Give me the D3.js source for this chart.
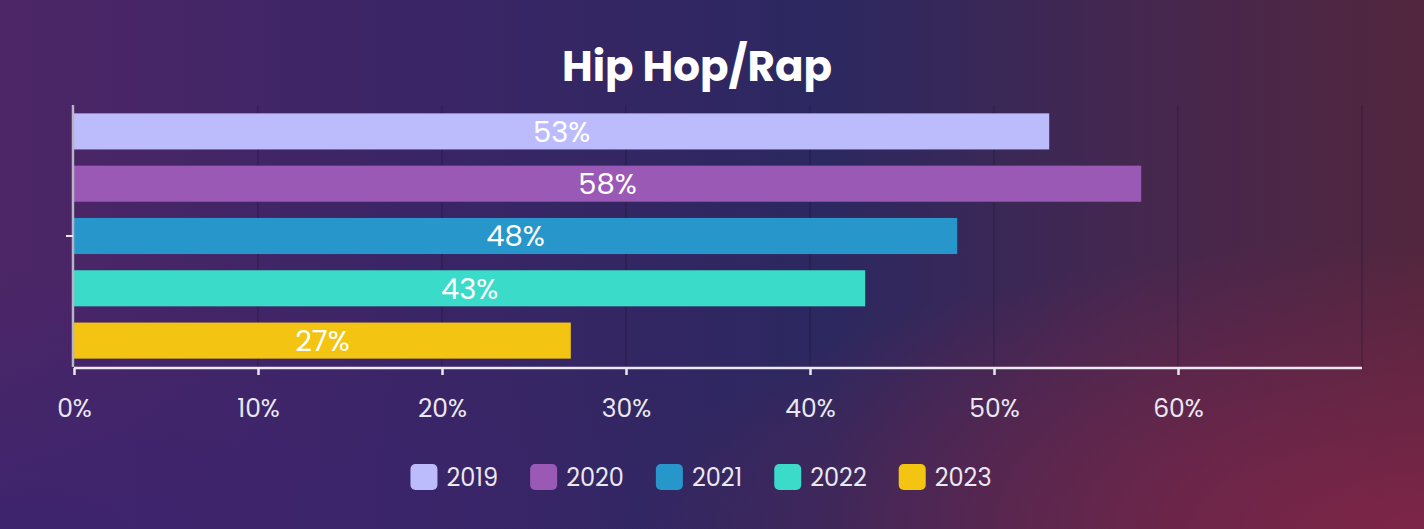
<!DOCTYPE html>
<html>
<head>
<meta charset="utf-8">
<script src="https://cdnjs.cloudflare.com/ajax/libs/d3/7.8.5/d3.min.js"></script>
<style>
    html, body { margin: 0; padding: 0; overflow: hidden; }
    body { width: 1424px; height: 529px; font-family: Poppins, Inter, "Open Sans", sans-serif; }
</style>
</head>
<body>
<div id="pic"></div>
<script>
//chart data
var title = "Hip Hop/Rap";
var years = ["2019", "2020", "2021", "2022", "2023"];
var shares = [53, 58, 48, 43, 27];
var colors = ["#bcbcfd", "#9b59b6", "#2796cb", "#3bdbca", "#f3c412"];
var tickValues = [0, 10, 20, 30, 40, 50, 60];
var gridValues = [0, 10, 20, 30, 40, 50, 60, 70];

var width = 1424,
    height = 529;
var margin = { top: 105, right: 62, bottom: 162, left: 74 };

var svg = d3.select("#pic").append("svg")
    .attr("width", width)
    .attr("height", height);

//background gradients
var defs = svg.append("defs");
var lin = defs.append("linearGradient").attr("id", "bg").attr("x1", "0").attr("y1", "0").attr("x2", "1").attr("y2", "0");
lin.append("stop").attr("offset", "0%").attr("stop-color", "#4d2666");
lin.append("stop").attr("offset", "30%").attr("stop-color", "#3a2566");
lin.append("stop").attr("offset", "58%").attr("stop-color", "#2c2860");
lin.append("stop").attr("offset", "80%").attr("stop-color", "#45274f");
lin.append("stop").attr("offset", "100%").attr("stop-color", "#52263e");

var rad = defs.append("radialGradient").attr("id", "glow")
    .attr("cx", "1").attr("cy", "1").attr("r", "0.55");
rad.append("stop").attr("offset", "0%").attr("stop-color", "#7d2548").attr("stop-opacity", 1);
rad.append("stop").attr("offset", "100%").attr("stop-color", "#7d2548").attr("stop-opacity", 0);

var rad2 = defs.append("radialGradient").attr("id", "glow2")
    .attr("cx", "0").attr("cy", "1").attr("r", "0.5");
rad2.append("stop").attr("offset", "0%").attr("stop-color", "#3a2470").attr("stop-opacity", 0.8);
rad2.append("stop").attr("offset", "100%").attr("stop-color", "#3a2470").attr("stop-opacity", 0);

svg.append("rect").attr("width", width).attr("height", height).attr("fill", "url(#bg)");
svg.append("rect").attr("width", width).attr("height", height).attr("fill", "url(#glow2)");
svg.append("rect").attr("width", width).attr("height", height).attr("fill", "url(#glow)");

//title
svg.append("text")
    .attr("x", 697)
    .attr("y", 81)
    .attr("text-anchor", "middle")
    .attr("fill", "#ffffff")
    .style("font-size", "42px")
    .style("font-weight", "700")
    .text(title);

var innerW = width - margin.left - margin.right,
    innerH = height - margin.top - margin.bottom;

var g = svg.append("g")
    .attr("transform", "translate(" + margin.left + "," + margin.top + ")");

var x = d3.scaleLinear()
    .domain([0, 70])
    .range([0, innerW]);

var y = d3.scaleBand()
    .domain(years)
    .range([0, innerH])
    .paddingInner(0.31)
    .paddingOuter(0.16);

//grid lines
g.append("g")
    .selectAll("line")
    .data(gridValues)
    .enter().append("line")
    .attr("x1", function(d) { return x(d); })
    .attr("x2", function(d) { return x(d); })
    .attr("y1", 0)
    .attr("y2", innerH)
    .attr("stroke", "#1f1838")
    .attr("stroke-opacity", 0.55)
    .attr("stroke-width", 1);

//bars
g.selectAll(".bar")
    .data(years)
    .enter().append("rect")
    .attr("class", "bar")
    .attr("x", x(0))
    .attr("y", function(d) { return y(d); })
    .attr("width", function(d, i) { return x(shares[i]) - x(0); })
    .attr("height", y.bandwidth())
    .attr("fill", function(d, i) { return colors[i]; });

//value labels
g.selectAll(".val")
    .data(years)
    .enter().append("text")
    .attr("class", "val")
    .attr("x", function(d, i) { return x(shares[i]) / 2; })
    .attr("y", function(d) { return y(d) + y.bandwidth() / 2; })
    .attr("dy", "0.36em")
    .attr("text-anchor", "middle")
    .attr("fill", "#ffffff")
    .style("font-size", "29px")
    .style("font-weight", "400")
    .text(function(d, i) { return shares[i] + "%"; });

//x axis
var xAxis = d3.axisBottom(x)
    .tickValues(tickValues)
    .tickSize(7)
    .tickPadding(24)
    .tickFormat(function(d) { return d + "%"; });

var xg = g.append("g")
    .attr("transform", "translate(0," + (innerH + 1) + ")")
    .call(xAxis);
xg.select(".domain")
    .attr("d", "M0,0H" + innerW)
    .attr("stroke", "#ebe8f2")
    .attr("stroke-width", 2.5);
xg.selectAll(".tick line").attr("stroke", "#ebe8f2").attr("stroke-width", 2.5);
xg.selectAll(".tick text")
    .attr("fill", "#ebe8f2")
    .style("font-size", "25px")
    .style("font-weight", "400")
    .style("font-family", "Poppins, Inter, sans-serif");

//y axis, one tick in the middle
var yg = g.append("g");
yg.append("line")
    .attr("x1", -1).attr("x2", -1)
    .attr("y1", 0).attr("y2", innerH)
    .attr("stroke", "#b9b3c6")
    .attr("stroke-width", 2.5);
yg.append("line")
    .attr("x1", -8).attr("x2", -1)
    .attr("y1", innerH / 2).attr("y2", innerH / 2)
    .attr("stroke", "#ebe8f2")
    .attr("stroke-width", 2);

//legend, laid out from the measured text widths and centred
var legend = svg.append("g").attr("transform", "translate(0,464)");
var items = legend.selectAll(".legend")
    .data(years)
    .enter().append("g")
    .attr("class", "legend");

items.append("rect")
    .attr("width", 27)
    .attr("height", 26)
    .attr("rx", 5)
    .attr("fill", function(d, i) { return colors[i]; });

items.append("text")
    .attr("x", 36)
    .attr("y", 13)
    .attr("dy", "0.36em")
    .attr("fill", "#ebe8f2")
    .style("font-size", "24px")
    .text(function(d) { return d; });

var pos = 0;
items.each(function() {
    var w = 36 + d3.select(this).select("text").node().getComputedTextLength();
    d3.select(this).attr("transform", "translate(" + pos + ",0)");
    pos += w + 32;
});
var total = pos - 32;
legend.attr("transform", "translate(" + (701 - total / 2) + ",464)");
</script>
</body>
</html>
